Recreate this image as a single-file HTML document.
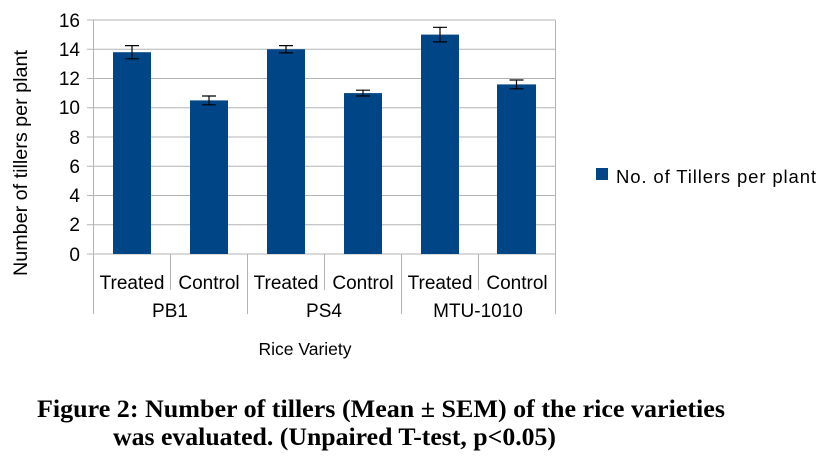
<!DOCTYPE html>
<html><head><meta charset="utf-8"><style>html,body{margin:0;padding:0;background:#fff}svg{display:block}</style></head>
<body>
<svg width="826" height="459" viewBox="0 0 826 459" xmlns="http://www.w3.org/2000/svg" font-family="Liberation Sans, sans-serif">
<rect width="826" height="459" fill="#fff"/>
<g stroke="#b3b3b3" stroke-width="1">
<line x1="87" y1="20" x2="555" y2="20"/>
<line x1="87" y1="49.25" x2="555" y2="49.25"/>
<line x1="87" y1="78.5" x2="555" y2="78.5"/>
<line x1="87" y1="107.75" x2="555" y2="107.75"/>
<line x1="87" y1="137" x2="555" y2="137"/>
<line x1="87" y1="166.25" x2="555" y2="166.25"/>
<line x1="87" y1="195.5" x2="555" y2="195.5"/>
<line x1="87" y1="224.75" x2="555" y2="224.75"/>
<line x1="87" y1="254" x2="555" y2="254"/>
<line x1="93.5" y1="20" x2="93.5" y2="314"/>
<line x1="555.5" y1="20" x2="555.5" y2="314"/>
<line x1="247.5" y1="254" x2="247.5" y2="314"/>
<line x1="401.5" y1="254" x2="401.5" y2="314"/>
<line x1="170.5" y1="254" x2="170.5" y2="290"/>
<line x1="324.5" y1="254" x2="324.5" y2="290"/>
<line x1="478.5" y1="254" x2="478.5" y2="290"/>
</g>
<g fill="#004586">
<rect x="113" y="52.2" width="38" height="201.8"/>
<rect x="190" y="100.4" width="38" height="153.6"/>
<rect x="267" y="49.25" width="38" height="204.75"/>
<rect x="344" y="93.1" width="38" height="160.9"/>
<rect x="421" y="34.6" width="38" height="219.4"/>
<rect x="497" y="84.4" width="39" height="169.6"/>
</g>
<g stroke="#000" stroke-width="1.2" fill="none">
<path d="M132 45.6V58.8M125 45.6H139M125 58.8H139"/>
<path d="M209 96V104.8M202 96H216M202 104.8H216"/>
<path d="M286 45.6V52.9M279 45.6H293M279 52.9H293"/>
<path d="M363 90.2V96M356 90.2H370M356 96H370"/>
<path d="M440 27.3V41.9M433 27.3H447M433 41.9H447"/>
<path d="M516.5 80V88.8M509.5 80H523.5M509.5 88.8H523.5"/>
</g>
<g font-size="19" fill="#000" text-anchor="end">
<text x="80" y="27">16</text><text x="80" y="56">14</text><text x="80" y="85">12</text>
<text x="80" y="114">10</text><text x="80" y="144">8</text><text x="80" y="173">6</text>
<text x="80" y="202">4</text><text x="80" y="231">2</text><text x="80" y="261">0</text>
</g>
<g font-size="19" fill="#000" text-anchor="middle">
<text x="132" y="289">Treated</text><text x="209" y="289">Control</text>
<text x="286" y="289">Treated</text><text x="363" y="289">Control</text>
<text x="440" y="289">Treated</text><text x="517" y="289">Control</text>
<text x="170" y="317">PB1</text><text x="324" y="317">PS4</text><text x="478" y="317">MTU-1010</text>
<text x="305" y="355" font-size="17.5">Rice Variety</text>
<text transform="translate(27,163) rotate(-90)" font-size="19" textLength="226" lengthAdjust="spacingAndGlyphs">Number of tillers per plant</text>
</g>
<rect x="596" y="168" width="12" height="12" fill="#004586"/>
<text x="616" y="183" font-size="18.5" fill="#000" textLength="200">No. of Tillers per plant</text>
<g font-family="Liberation Serif, serif" font-weight="bold" font-size="25" fill="#000">
<text x="37" y="417" textLength="688" lengthAdjust="spacingAndGlyphs">Figure 2: Number of tillers (Mean ± SEM) of the rice varieties</text>
<text x="113" y="445" textLength="443" lengthAdjust="spacingAndGlyphs">was evaluated. (Unpaired T-test, p&lt;0.05)</text>
</g>
</svg>
</body></html>
